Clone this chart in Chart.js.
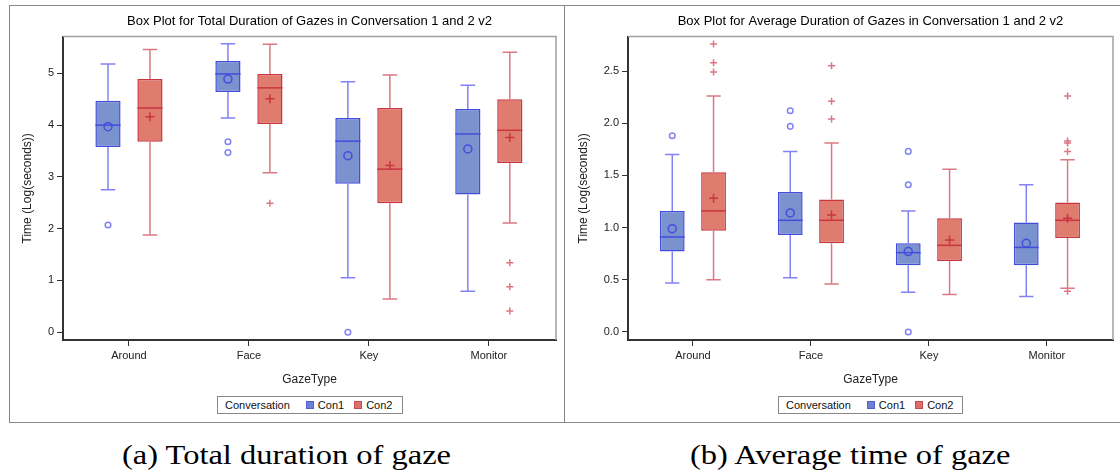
<!DOCTYPE html>
<html>
<head>
<meta charset="utf-8">
<script src="https://cdn.jsdelivr.net/npm/chart.js@4.4.1/dist/chart.umd.min.js"></script>
<style>
  body { margin: 0; background: #fff; width: 1120px; height: 473px; position: relative; overflow: hidden; font-family: "Liberation Sans", Arial, sans-serif; }
  .panel { position: absolute; top: 5px; height: 418px; box-sizing: border-box; border: 1px solid #888; }
  #pa { left: 9px; width: 556px; }
  #pb { left: 564px; width: 560px; }
  canvas { position: absolute; top: 0; }
  .legend { position: absolute; top: 390px; height: 18px; box-sizing: border-box; border: 1px solid #888; font-size: 11px; color: #111; line-height: 16px; padding-left: 7px; white-space: nowrap; }
  .legend .sw { display: inline-block; width: 8px; height: 8px; margin: 0 4px 0 10px; vertical-align: -0px; box-sizing: border-box; }
  .caption { position: absolute; top: 439px; font-family: "Liberation Serif", "DejaVu Serif", serif; font-size: 28px; color: #000; white-space: nowrap; transform: scaleX(1.16); transform-origin: 0 0; }
</style>
</head>
<body>
<div class="panel" id="pa">
  <canvas id="c1" width="552" height="384" style="left:0px"></canvas>
  <div class="legend" style="left:207px;width:186px">Conversation<span class="sw" style="background:#6f7fd6;border:1px solid #5060d0;margin-left:16px"></span>Con1<span class="sw" style="background:#dc6f6a;border:1px solid #c84850"></span>Con2</div>
</div>
<div class="panel" id="pb">
  <canvas id="c2" width="552" height="384" style="left:1px"></canvas>
  <div class="legend" style="left:213px;width:185px">Conversation<span class="sw" style="background:#6f7fd6;border:1px solid #5060d0;margin-left:16px"></span>Con1<span class="sw" style="background:#dc6f6a;border:1px solid #c84850"></span>Con2</div>
</div>
<div class="caption" style="left:122px">(a) Total duration of gaze</div>
<div class="caption" style="left:690px">(b) Average time of gaze</div>

<script>
const gazeTypes = ['Around', 'Face', 'Key', 'Monitor'];

// [min whisker, Q1, median, Q3, max whisker] per gaze type
const totalCon1 = [[2.75, 3.58, 4.00, 4.47, 5.18], [4.14, 4.64, 4.99, 5.24, 5.57], [1.05, 2.87, 3.69, 4.14, 4.84], [0.79, 2.66, 3.83, 4.31, 4.77]];
const totalCon2 = [[1.88, 3.68, 4.33, 4.89, 5.46], [3.08, 4.02, 4.72, 4.99, 5.56], [0.64, 2.49, 3.15, 4.33, 4.97], [2.11, 3.27, 3.90, 4.50, 5.41]];
const totalCon1Mean = [3.97, 4.89, 3.41, 3.54];
const totalCon2Mean = [4.16, 4.51, 3.22, 3.76];
const totalCon1Out = [[2.07], [3.68, 3.47], [0.0], []];
const totalCon2Out = [[], [2.49], [], [1.34, 0.88, 0.41]];
const totalTicks = [0, 1, 2, 3, 4, 5];

const avgCon1 = [[0.47, 0.77, 0.91, 1.16, 1.70], [0.52, 0.93, 1.07, 1.34, 1.73], [0.38, 0.64, 0.76, 0.85, 1.16], [0.34, 0.64, 0.81, 1.05, 1.41]];
const avgCon2 = [[0.50, 0.97, 1.16, 1.53, 2.26], [0.46, 0.85, 1.07, 1.27, 1.81], [0.36, 0.68, 0.83, 1.09, 1.56], [0.42, 0.90, 1.07, 1.24, 1.65]];
const avgCon1Mean = [0.99, 1.14, 0.77, 0.85];
const avgCon2Mean = [1.28, 1.12, 0.88, 1.09];
const avgCon1Out = [[1.88], [2.12, 1.97], [1.73, 1.41, 0.0], []];
const avgCon2Out = [[2.76, 2.58, 2.49], [2.55, 2.21, 2.04], [], [2.26, 1.83, 1.81, 1.73, 0.39]];
const avgTicks = [0, 0.5, 1.0, 1.5, 2.0, 2.5];

const con1Fill = 'rgb(122,146,206)', con1Line = 'rgb(68,76,220)', con1Whisk = 'rgb(130,130,245)';
const con2Fill = 'rgb(224,124,110)', con2Line = 'rgb(200,52,64)', con2Whisk = 'rgb(218,120,132)';

function drawMark(ctx, type, x, y, r, color) {
    ctx.strokeStyle = color;
    ctx.lineWidth = 1.5;
    ctx.beginPath();
    if (type === 'circle') {
        ctx.arc(x, y, r, 0, Math.PI * 2);
    } else {
        ctx.moveTo(x - r, y); ctx.lineTo(x + r, y);
        ctx.moveTo(x, y - r); ctx.lineTo(x, y + r);
    }
    ctx.stroke();
}

// whiskers, medians, means and outliers on top of the floating bars
const boxExtras = {
    id: 'boxExtras',
    beforeDatasetsDraw(chart) {
        const a = chart.chartArea, ctx = chart.ctx;
        ctx.save();
        ctx.strokeStyle = '#a0a0a0';
        ctx.lineWidth = 1.5;
        ctx.beginPath();
        ctx.moveTo(a.left, a.top); ctx.lineTo(a.right, a.top); ctx.lineTo(a.right, a.bottom);
        ctx.stroke();
        ctx.restore();
    },
    afterDatasetsDraw(chart) {
        const ctx = chart.ctx, y = chart.scales.y;
        const py = v => y.getPixelForValue(v);
        chart.data.datasets.forEach((ds, i) => {
            const meta = chart.getDatasetMeta(i);
            meta.data.forEach((bar, j) => {
                const s = ds.stats[j];
                const x = bar.x, half = bar.width / 2, cap = bar.width * 0.29;
                ctx.save();
                ctx.strokeStyle = ds.whiskerColor;
                ctx.lineWidth = 1.5;
                ctx.beginPath();
                ctx.moveTo(x, py(s[0])); ctx.lineTo(x, py(s[1]));
                ctx.moveTo(x, py(s[3])); ctx.lineTo(x, py(s[4]));
                ctx.moveTo(x - cap, py(s[0])); ctx.lineTo(x + cap, py(s[0]));
                ctx.moveTo(x - cap, py(s[4])); ctx.lineTo(x + cap, py(s[4]));
                ctx.stroke();
                ctx.strokeStyle = ds.borderColor;
                ctx.beginPath();
                ctx.moveTo(x - half, py(s[2])); ctx.lineTo(x + half, py(s[2]));
                ctx.stroke();
                drawMark(ctx, ds.mark, x, py(ds.means[j]), ds.mark === 'circle' ? 4 : 4.5, ds.borderColor);
                ds.outliers[j].forEach(v => drawMark(ctx, ds.mark, x, py(v), ds.mark === 'circle' ? 2.8 : 3.5, ds.whiskerColor));
                ctx.restore();
            });
        });
    }
};

function boxDataset(label, stats, means, outliers, fill, line, whisk, mark) {
    return {
        label: label,
        data: stats.map((s, i) => ({ x: i, y: [s[1], s[3]] })),
        stats: stats,
        means: means,
        outliers: outliers,
        mark: mark,
        whiskerColor: whisk,
        backgroundColor: fill,
        borderColor: line,
        borderWidth: 1.5,
        borderSkipped: false,
        categoryPercentage: 0.7,
        barPercentage: 0.6
    };
}

function makeChart(id, title, sets, yMin, yMax, ticks, yWidth, padRight, fmt) {
    const font = { family: '"Liberation Sans", Arial, sans-serif', size: 11 };
    new Chart(document.getElementById(id).getContext('2d'), {
        type: 'bar',
        data: { datasets: sets },
        options: {
            responsive: false,
            animation: false,
            layout: { padding: { left: 0, right: padRight, top: 0, bottom: 0 } },
            plugins: {
                legend: { display: false },
                tooltip: { enabled: false },
                title: {
                    display: true,
                    text: title,
                    fullSize: false,
                    color: '#000',
                    font: { family: font.family, size: 13, weight: 'normal' },
                    padding: { top: 8, bottom: 7 }
                }
            },
            scales: {
                x: {
                    type: 'linear',
                    min: -0.55,
                    max: 3.56,
                    offset: false,
                    afterBuildTicks: s => { s.ticks = gazeTypes.map((g, i) => ({ value: i })); },
                    afterFit: s => { s.height = 50; },
                    ticks: { callback: v => gazeTypes[v], color: '#222', font: font, padding: 3, maxRotation: 0 },
                    grid: { offset: false, drawOnChartArea: false, tickLength: 6, color: '#333', lineWidth: 1 },
                    border: { color: '#333', width: 2 },
                    title: { display: true, text: 'GazeType', color: '#222', font: { family: font.family, size: 12 }, padding: { top: 0, bottom: 3 } }
                },
                y: {
                    min: yMin,
                    max: yMax,
                    afterBuildTicks: s => { s.ticks = ticks.map(v => ({ value: v })); },
                    afterFit: s => { s.width = yWidth; },
                    ticks: { callback: fmt, color: '#222', font: font, padding: 3 },
                    grid: { drawOnChartArea: false, tickLength: 6, color: '#333', lineWidth: 1 },
                    border: { color: '#333', width: 2 },
                    title: { display: true, text: 'Time (Log(seconds))', color: '#222', font: { family: font.family, size: 12 }, padding: { top: 10, bottom: 0 } }
                }
            }
        },
        plugins: [boxExtras]
    });
}

makeChart('c1', 'Box Plot for Total Duration of Gazes in Conversation 1 and 2 v2', [
    boxDataset('Con1', totalCon1, totalCon1Mean, totalCon1Out, con1Fill, con1Line, con1Whisk, 'circle'),
    boxDataset('Con2', totalCon2, totalCon2Mean, totalCon2Out, con2Fill, con2Line, con2Whisk, 'plus')
], -0.15, 5.71, totalTicks, 53, 6, v => String(v));

makeChart('c2', 'Box Plot for Average Duration of Gazes in Conversation 1 and 2 v2', [
    boxDataset('Con1', avgCon1, avgCon1Mean, avgCon1Out, con1Fill, con1Line, con1Whisk, 'circle'),
    boxDataset('Con2', avgCon2, avgCon2Mean, avgCon2Out, con2Fill, con2Line, con2Whisk, 'plus')
], -0.077, 2.83, avgTicks, 62, 5, v => v.toFixed(1));
</script>
</body>
</html>
